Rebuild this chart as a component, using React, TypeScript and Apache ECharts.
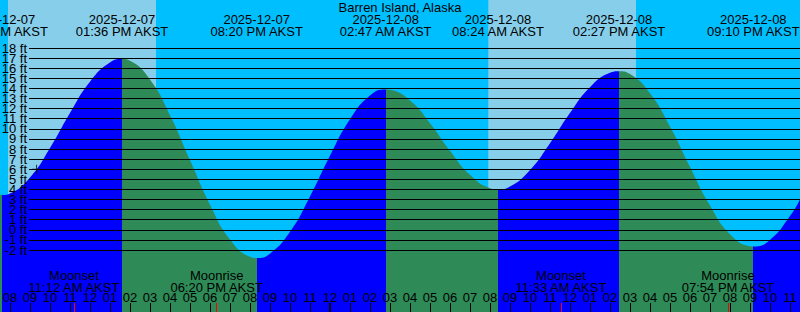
import React, { useEffect, useRef } from 'react';
import * as echarts from 'echarts';

// ---- data (hours since 2025-12-07 00:00 AKST, heights in ft) ----
const tideHours = [7.5, 7.6, 8, 9, 10, 11, 12, 13, 13.6, 14, 15, 16, 17, 18, 19, 20, 20.333, 21, 22, 23, 24, 25, 26, 26.783, 27, 28, 29, 30, 31, 32, 32.4, 33, 34, 35, 36, 37, 38, 38.45, 39, 40, 41, 42, 43, 44, 45, 45.167, 46, 47, 47.5];
const tideFeet = [3.46, 3.45, 3.6, 5.18, 8.1, 11.57, 14.67, 16.57, 16.9, 16.73, 14.87, 11.34, 6.9, 2.49, -0.96, -2.68, -2.8, -2.36, -0.2, 3.3, 7.33, 10.94, 13.3, 13.9, 13.86, 12.8, 10.56, 7.83, 5.44, 4.12, 4.0, 4.28, 5.91, 8.57, 11.57, 14.12, 15.54, 15.7, 15.42, 13.52, 10.22, 6.22, 2.4, -0.43, -1.62, -1.65, -1.0, 1.36, 3.0];

const extremeHours = [7.6, 13.6, 20.333, 26.783, 32.4, 38.45, 45.167];
const extremeDates = ['2025-12-07', '2025-12-07', '2025-12-07', '2025-12-08', '2025-12-08', '2025-12-08', '2025-12-08'];
const extremeTimes = ['07:36 AM AKST', '01:36 PM AKST', '08:20 PM AKST', '02:47 AM AKST', '08:24 AM AKST', '02:27 PM AKST', '09:10 PM AKST'];

const moonHours = [11.2, 18.333, 35.55, 43.9];
const moonEvents = ['Moonset', 'Moonrise', 'Moonset', 'Moonrise'];
const moonTimes = ['11:12 AM AKST', '06:20 PM AKST', '11:33 AM AKST', '07:54 PM AKST'];

const dayStarts = [7.9, 31.915];
const dayEnds = [15.3, 39.3];

const hourTicks = [8, 9, 10, 11, 12, 13, 14, 15, 16, 17, 18, 19, 20, 21, 22, 23, 24, 25, 26, 27, 28, 29, 30, 31, 32, 33, 34, 35, 36, 37, 38, 39, 40, 41, 42, 43, 44, 45, 46, 47];
const hourLabels = ['08', '09', '10', '11', '12', '01', '02', '03', '04', '05', '06', '07', '08', '09', '10', '11', '12', '01', '02', '03', '04', '05', '06', '07', '08', '09', '10', '11', '12', '01', '02', '03', '04', '05', '06', '07', '08', '09', '10', '11'];
const midnightHours = [24];

const feetTicksEven = [-2, 0, 2, 4, 6, 8, 10, 12, 14, 16, 18];
const feetTicksOdd = [-1, 1, 3, 5, 7, 9, 11, 13, 15, 17];

const markHour = [9.33];
const markFeet = [6];

const yTickMin = -2;
const yTickMax = 18;

// ---- style / layout ----
const FONT = '"Liberation Sans", Arial, sans-serif';
const W = 800;
const H = 312;
const TOP_PX = 48; // 18 ft line
const BOT_PX = 250; // -2 ft line
const X_MIN = 7.5;
const X_MAX = 47.5;
const NIGHT = '#00BFFF';
const DAY = '#87CEEB';
const RISE = '#0000FF';
const FALL = '#2E8B57';

function findIdx(arr: number[], v: number) {
  let best = 0;
  for (let i = 0; i < arr.length; i++) if (Math.abs(arr[i] - v) < Math.abs(arr[best] - v)) best = i;
  return best;
}

export default function App() {
  const ref = useRef<HTMLDivElement>(null);
  useEffect(() => {
    document.body.style.margin = '0';
    const chart = echarts.init(ref.current as HTMLDivElement, undefined, { renderer: 'svg' });
    const ppf = (BOT_PX - TOP_PX) / (yTickMax - yTickMin);
    const yMax0 = yTickMax + TOP_PX / ppf;
    const yMin0 = yTickMin - (H - BOT_PX) / ppf;

    const bounds = [X_MIN, ...extremeHours, X_MAX];
    const pieces: any[] = [];
    for (let i = 0; i < bounds.length - 1; i++) {
      pieces.push({ gte: bounds[i], lt: i === bounds.length - 2 ? X_MAX + 1 : bounds[i + 1], color: i % 2 === 0 ? FALL : RISE });
    }

    const xBase: any = {
      type: 'value',
      gridIndex: 0,
      min: X_MIN,
      max: X_MAX,
      z: 10,
      splitLine: { show: false },
      axisLine: { show: false, onZero: false },
    };
    const txt = { color: '#000', fontSize: 13, fontFamily: FONT };
    const yLabelBase: any = {
      type: 'value', gridIndex: 1, min: yTickMin, max: yTickMax, position: 'left', z: 10,
      axisLine: { show: false, onZero: false },
      axisTick: { show: false },
    };

    const option: any = {
      animation: false,
      backgroundColor: NIGHT,
      title: {
        text: 'Barren Island, Alaska',
        left: 'center',
        top: 1,
        padding: 0,
        z: 12,
        textStyle: { ...txt, fontWeight: 'normal', lineHeight: 13 },
      },
      grid: [
        { left: 0, right: 0, top: 0, bottom: 0, containLabel: false, outerBoundsMode: 'none' },
        { left: 29, right: 0, top: TOP_PX, bottom: H - BOT_PX, containLabel: false, outerBoundsMode: 'none' },
      ],
      xAxis: [
        {
          ...xBase,
          position: 'bottom',
          axisTick: { show: true, inside: true, length: 9, customValues: hourTicks, lineStyle: { color: '#000', width: 1 } },
          axisLabel: {
            show: true, inside: true, margin: 8, customValues: hourTicks, ...txt, lineHeight: 13,
            showMinLabel: true, showMaxLabel: true, hideOverlap: false,
            formatter: (v: number) => hourLabels[findIdx(hourTicks, v)],
          },
        },
        {
          ...xBase,
          position: 'bottom',
          axisTick: { show: true, inside: true, length: 9, customValues: moonHours, lineStyle: { color: '#FF0000', width: 1 } },
          axisLabel: {
            show: true, inside: true, margin: 19, customValues: moonHours, ...txt, lineHeight: 12,
            showMinLabel: true, showMaxLabel: true, hideOverlap: false,
            formatter: (v: number) => { const i = findIdx(moonHours, v); return moonEvents[i] + '\n' + moonTimes[i]; },
          },
        },
        {
          ...xBase,
          position: 'bottom',
          axisTick: { show: true, inside: true, length: 9, customValues: midnightHours, lineStyle: { color: '#000', width: 2 } },
          axisLabel: { show: false },
        },
        {
          ...xBase,
          position: 'top',
          axisTick: { show: false },
          axisLabel: {
            show: true, inside: true, margin: 13, customValues: extremeHours, ...txt, lineHeight: 12,
            showMinLabel: true, showMaxLabel: true, hideOverlap: false,
            formatter: (v: number) => { const i = findIdx(extremeHours, v); return extremeDates[i] + '\n' + extremeTimes[i]; },
          },
        },
        { type: 'value', gridIndex: 1, min: X_MIN, max: X_MAX, show: false },
      ],
      yAxis: [
        { type: 'value', gridIndex: 0, min: yMin0, max: yMax0, show: false },
        {
          ...yLabelBase,
          interval: 1,
          splitLine: { show: true, lineStyle: { color: '#000', width: 1 } },
          axisLabel: { formatter: '{value} ft', margin: 2, ...txt, customValues: feetTicksEven, showMinLabel: true, showMaxLabel: true, hideOverlap: false },
        },
        {
          ...yLabelBase,
          splitLine: { show: false },
          axisLabel: { formatter: '{value} ft', margin: 2, ...txt, customValues: feetTicksOdd, showMinLabel: true, showMaxLabel: true, hideOverlap: false },
        },
      ],
      visualMap: {
        type: 'piecewise', show: false, dimension: 0, seriesIndex: 1, pieces,
      },
      series: [
        {
          type: 'custom', xAxisIndex: 0, yAxisIndex: 0, z: 1, silent: true, clip: false,
          data: dayStarts.map((s, i) => [s, dayEnds[i]]),
          encode: { x: [0, 1] },
          renderItem: (params: any, api: any) => {
            const x0 = api.coord([api.value(0), 0])[0];
            const x1 = api.coord([api.value(1), 0])[0];
            const cs = params.coordSys;
            return { type: 'rect', shape: { x: x0, y: cs.y, width: x1 - x0, height: cs.height }, style: { fill: DAY } };
          },
        },
        {
          type: 'line', xAxisIndex: 0, yAxisIndex: 0, z: 2, silent: true,
          smooth: 0.5, symbol: 'none', showSymbol: false,
          data: tideHours.map((t, i) => [t, tideFeet[i]]),
          lineStyle: { width: 0 },
          areaStyle: { opacity: 1, origin: 'start' },
        },
        {
          type: 'scatter', xAxisIndex: 0, yAxisIndex: 0, z: 12, silent: true,
          data: markHour.map((t, i) => [t, markFeet[i]]),
          symbol: 'path://M0,4H9V5H0ZM4,0H5V9H4Z',
          symbolSize: 9,
          itemStyle: { color: '#000' },
        },
      ],
    };
    chart.setOption(option);
    return () => chart.dispose();
  }, []);
  return <div ref={ref} style={{ width: W, height: H }} />;
}
